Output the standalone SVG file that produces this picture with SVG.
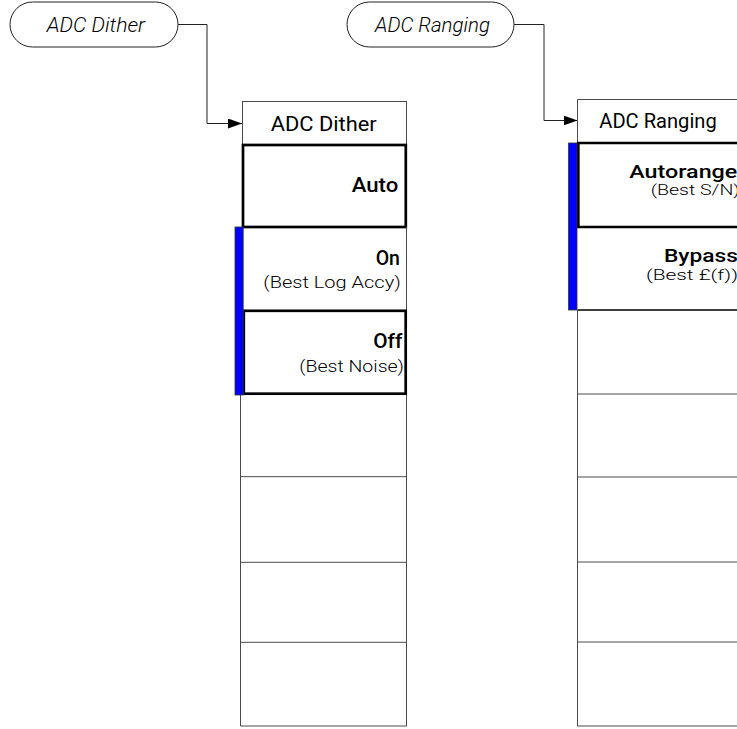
<svg xmlns="http://www.w3.org/2000/svg" width="737" height="729" viewBox="0 0 737 729">
<defs>
<style>
.thin{fill:none;stroke:#4a4a4a;stroke-width:1}
.thick{fill:none;stroke:#000;stroke-width:2.7}
.blue{fill:#0000ff;stroke:#333;stroke-width:0.8}
.oval{fill:#fff;stroke:#222;stroke-width:1}
.conn{fill:none;stroke:#222;stroke-width:1}
.hdr{font-family:Roboto,"Liberation Sans",sans-serif;font-size:21px;fill:#000}
.key{font-family:Roboto,"Liberation Sans",sans-serif;font-size:20px;font-weight:500;fill:#000}
.sub{font-family:Roboto,"Liberation Sans",sans-serif;font-size:17px;font-weight:300;fill:#000}
.keyr{font-family:Roboto,"Liberation Sans",sans-serif;font-size:18px;font-weight:500;fill:#000}
.subr{font-family:Roboto,"Liberation Sans",sans-serif;font-size:15px;font-weight:300;fill:#000}
.ovt{font-family:Roboto,"Liberation Sans",sans-serif;font-size:20px;font-style:italic;font-weight:300;fill:#000}
</style>
<marker id="arr" markerWidth="14" markerHeight="10" refX="14" refY="5" orient="auto" markerUnits="userSpaceOnUse">
<path d="M0,0 L14,5 L0,10 Z" fill="#000"/>
</marker>
</defs>
<rect width="737" height="729" fill="#fff"/>

<g id="connectors">
<path class="conn" d="M178,24.5 H207 V123.5 H242" marker-end="url(#arr)"/>
<path class="conn" d="M514,24.5 H544 V120.5 H577.5" marker-end="url(#arr)"/>
</g>

<g id="oval-adc-dither">
<rect class="oval" x="10" y="2" width="168" height="45" rx="22.5"/>
<text class="ovt" x="46.7" y="31.7" textLength="98.3" lengthAdjust="spacingAndGlyphs">ADC Dither</text>
</g>

<g id="oval-adc-ranging">
<rect class="oval" x="347" y="2" width="167" height="45" rx="22.5"/>
<text class="ovt" x="375" y="31.7" textLength="115" lengthAdjust="spacingAndGlyphs">ADC Ranging</text>
</g>

<g id="menu-adc-dither">
<g id="dither-header">
<rect class="thin" x="242.5" y="101.5" width="164" height="43"/>
<text class="hdr" x="270.7" y="131" textLength="106" lengthAdjust="spacingAndGlyphs">ADC Dither</text>
</g>
<g id="dither-auto">
<rect class="thick" x="243" y="145" width="162.8" height="82"/>
<text class="key" x="351.7" y="192.3" textLength="46.6" lengthAdjust="spacingAndGlyphs">Auto</text>
</g>
<g id="dither-on">
<line class="thin" x1="406.5" y1="227" x2="406.5" y2="311"/>
<text class="key" x="375.7" y="265" textLength="24.3" lengthAdjust="spacingAndGlyphs">On</text>
<text class="sub" x="263.3" y="288" textLength="137.4" lengthAdjust="spacingAndGlyphs">(Best Log Accy)</text>
</g>
<g id="dither-off">
<rect class="thick" x="243.8" y="310.8" width="161.9" height="82.9"/>
<text class="key" x="373.3" y="348.3" textLength="29" lengthAdjust="spacingAndGlyphs">Off</text>
<text class="sub" x="299.3" y="371.5" textLength="104.7" lengthAdjust="spacingAndGlyphs">(Best Noise)</text>
</g>
<rect class="blue" x="235" y="227" width="8.2" height="168"/>
<g id="dither-empty">
<path class="thin" d="M240.5,395 V726 H406.5 V395 M240.5,476.7 H406.5 M240.5,562.3 H406.5 M240.5,642.3 H406.5"/>
</g>
</g>

<g id="menu-adc-ranging">
<g id="ranging-header">
<path class="thin" d="M577.5,143 V99.5 H740"/>
<text class="hdr" x="599.3" y="127.5" textLength="117.4" lengthAdjust="spacingAndGlyphs">ADC Ranging</text>
</g>
<g id="ranging-autorange">
<path class="thick" d="M740,143 H578.3 V227 H740"/>
<text class="keyr" x="629.3" y="178" textLength="108" lengthAdjust="spacingAndGlyphs">Autorange</text>
<text class="subr" x="650.7" y="195" textLength="89" lengthAdjust="spacingAndGlyphs">(Best S/N)</text>
</g>
<g id="ranging-bypass">
<line x1="577.5" y1="310" x2="740" y2="310" stroke="#000" stroke-width="1.5"/>
<text class="keyr" x="664" y="262" textLength="74" lengthAdjust="spacingAndGlyphs">Bypass</text>
<text class="subr" x="646" y="280" textLength="92" lengthAdjust="spacingAndGlyphs">(Best £(f))</text>
</g>
<rect class="blue" x="568.5" y="143" width="8.5" height="167"/>
<g id="ranging-empty">
<path class="thin" d="M577.5,310 V726 H740 M577.5,394 H740 M577.5,477 H740 M577.5,562 H740 M577.5,642 H740"/>
</g>
</g>
</svg>
